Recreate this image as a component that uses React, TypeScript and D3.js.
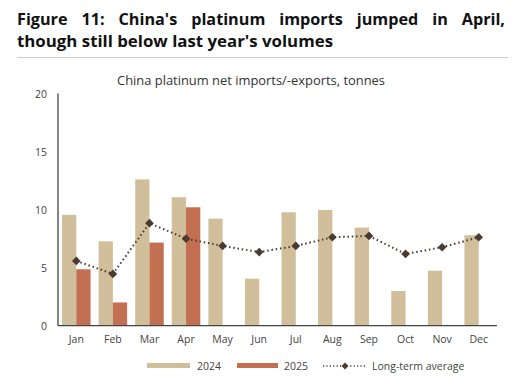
import React, { useLayoutEffect, useRef, useState } from "react";
import * as d3 from "d3";

const months = ["Jan", "Feb", "Mar", "Apr", "May", "Jun", "Jul", "Aug", "Sep", "Oct", "Nov", "Dec"];
const values2024 = [9.55, 7.27, 12.6, 11.07, 9.22, 4.05, 9.77, 9.97, 8.45, 2.99, 4.74, 7.79];
const values2025: (number | null)[] = [4.86, 2.0, 7.16, 10.2, null, null, null, null, null, null, null, null];
const longTermAvg = [5.58, 4.46, 8.83, 7.5, 6.87, 6.34, 6.87, 7.62, 7.73, 6.18, 6.76, 7.62];
const yTicks = [0, 5, 10, 15, 20];
const seriesNames = ["2024", "2025", "Long-term average"];

const W = 528;
const H = 385;
const colors = { c2024: "#d1bf9c", c2025: "#c26f52", avg: "#4a3b30" };
const FONT = "'Open Sans', 'Noto Sans', sans-serif";
const TITLE1 = "Figure 11: China's platinum imports jumped in April,";
const TITLE2 = "though still below last year's volumes";

export default function App() {
  const left = 58;
  const right = 497;
  const top = 93.5;
  const bottom = 325.7;

  const t1 = useRef<SVGTextElement>(null);
  const [ws, setWs] = useState(0);
  useLayoutEffect(() => {
    if (t1.current) {
      const len = t1.current.getComputedTextLength();
      const spaces = TITLE1.split(" ").length - 1;
      setWs(Math.max(0, (488 - len) / spaces));
    }
  }, []);

  const x = d3.scaleBand<string>().domain(months).range([left, right]).paddingInner(0.22).paddingOuter(0.11);
  const xSub = d3.scaleBand<string>().domain(["2024", "2025"]).range([0, x.bandwidth()]);
  const y = d3.scaleLinear().domain([0, 20]).range([bottom, top]);

  const cx = (m: string) => (x(m) as number) + x.bandwidth() / 2;
  const line = d3
    .line<number>()
    .x((_, i) => cx(months[i]))
    .y((d) => y(d));

  const diamond = d3.symbol().type(d3.symbolDiamond2).size(48)();

  return (
    <svg width={W} height={H} style={{ position: "absolute", left: 0, top: 0, background: "#fff" }}>
      <g fontFamily={FONT}>
        <text ref={t1} x={17} y={25} fontSize={16.2} fontWeight={700} fill="#111" style={{ wordSpacing: `${ws}px` }}>
          {TITLE1}
        </text>
        <text x={17} y={47} fontSize={16.2} fontWeight={700} fill="#111" textLength={316} lengthAdjust="spacingAndGlyphs">
          {TITLE2}
        </text>
        <line x1={17} x2={508} y1={57.5} y2={57.5} stroke="#cfcfcf" strokeWidth={1} />
        <text x={251} y={85} fontSize={12.5} fill="#333" textAnchor="middle" textLength={268} lengthAdjust="spacingAndGlyphs">
          China platinum net imports/-exports, tonnes
        </text>

        {yTicks.map((t) => (
          <text key={t} x={47} y={y(t) + 4} fontSize={10.5} fill="#444" textAnchor="end">
            {t}
          </text>
        ))}

        {months.map((m, i) => (
          <g key={m}>
            <rect
              x={(x(m) as number) + (xSub("2024") as number)}
              y={y(values2024[i])}
              width={xSub.bandwidth()}
              height={bottom - y(values2024[i])}
              fill={colors.c2024}
            />
            {values2025[i] != null && (
              <rect
                x={(x(m) as number) + (xSub("2025") as number)}
                y={y(values2025[i] as number)}
                width={xSub.bandwidth()}
                height={bottom - y(values2025[i] as number)}
                fill={colors.c2025}
              />
            )}
            <text x={cx(m)} y={343} fontSize={10.5} fill="#444" textAnchor="middle">
              {m}
            </text>
          </g>
        ))}

        <path d={line(longTermAvg) || ""} fill="none" stroke={colors.avg} strokeWidth={2} strokeDasharray="1.5 2.8" strokeLinecap="butt" />
        {longTermAvg.map((v, i) => (
          <path key={i} d={diamond || ""} transform={`translate(${cx(months[i])},${y(v)})`} fill={colors.avg} />
        ))}

        <line x1={left} x2={left} y1={top} y2={bottom} stroke="#444" strokeWidth={1.3} />
        <line x1={left} x2={right} y1={bottom} y2={bottom} stroke="#444" strokeWidth={1.3} />

        {/* legend */}
        <rect x={147} y={363} width={43} height={5} fill={colors.c2024} />
        <text x={197} y={370} fontSize={10.5} fill="#444">{seriesNames[0]}</text>
        <rect x={237} y={363} width={41} height={5} fill={colors.c2025} />
        <text x={284} y={370} fontSize={10.5} fill="#444">{seriesNames[1]}</text>
        <line x1={323} x2={367} y1={366} y2={366} stroke={colors.avg} strokeWidth={1.6} strokeDasharray="1.2 2.2" />
        <path d={d3.symbol().type(d3.symbolDiamond2).size(30)() || ""} transform="translate(345,366)" fill={colors.avg} />
        <text x={372} y={370} fontSize={10.5} fill="#444">{seriesNames[2]}</text>
      </g>
    </svg>
  );
}
